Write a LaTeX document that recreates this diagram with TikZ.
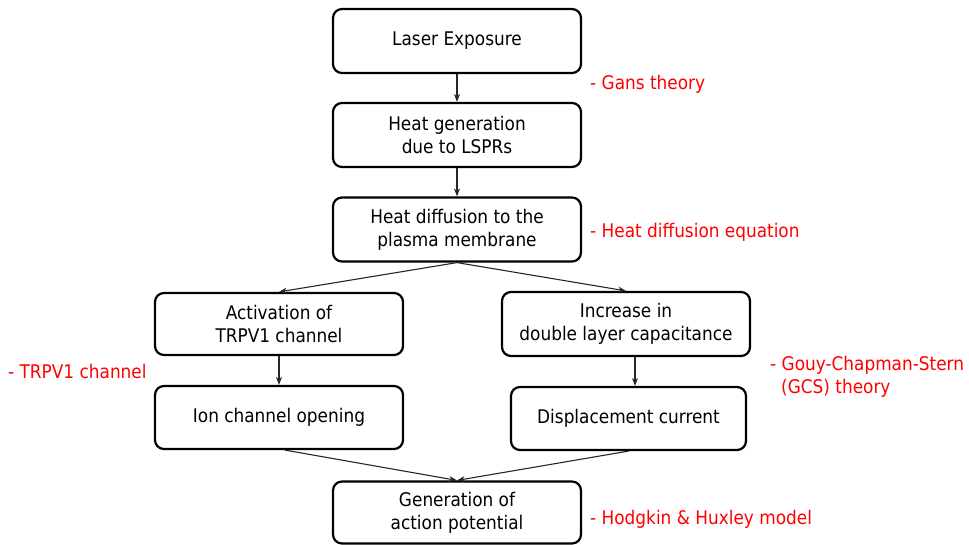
\documentclass[tikz,border=0pt]{standalone}
\usepackage{fontspec}
\setmainfont{DejaVu Sans Condensed}
\usetikzlibrary{arrows.meta}
\begin{document}
\begin{tikzpicture}[x=1pt,y=-1pt,
  box/.style={draw=black,line width=2.2pt,rounded corners=9pt,fill=white,
    minimum width=248pt,minimum height=64pt,align=center,inner sep=0pt,
    font=\fontsize{18.8}{23}\selectfont},
  note/.style={text=red,anchor=west,inner sep=0pt,font=\fontsize{18.8}{23}\selectfont},
  conn/.style={draw=black!85,line width=1.1pt,-{Stealth[length=8pt,width=6pt]}}]
\useasboundingbox (0,0) rectangle (969,544);
\node[box] (b1) at (457,41) {Laser Exposure};
\node[box] (b2) at (457,135) {Heat generation\\due to LSPRs};
\node[box] (b3) at (457,229.5) {Heat diffusion to the\\plasma membrane};
\node[box,minimum height=62pt] (b4) at (279,324) {Activation of\\TRPV1 channel};
\node[box] (b5) at (626,324) {Increase in\\double layer capacitance};
\node[box,minimum height=63pt] (b6) at (279,417.5) {Ion channel opening};
\node[box,minimum width=235pt,minimum height=63pt] (b7) at (628.5,418.5) {Displacement current};
\node[box,minimum height=62pt] (b8) at (457,512.5) {Generation of\\action potential};
\coordinate (xr) at (635,0);
\coordinate (xl) at (285,0);
\draw[conn] (b1.south) -- (b2.north);
\draw[conn] (b2.south) -- (b3.north);
\draw[conn] (b3.south) -- (b4.north);
\draw[conn] (b3.south) -- (b5.north);
\draw[conn] (b4.south) -- (b6.north);
\draw[conn] (b5.south -| xr) -- (b7.north -| xr);
\draw[conn] (b6.south -| xl) -- (b8.north);
\draw[conn] (b7.south) -- (b8.north);
\node[note] (n1) at (590,84) {- Gans theory};
\node[note] (n2) at (590,232) {- Heat diffusion equation};
\node[note] (n3) at (8,371) {- TRPV1 channel};
\node[note] (n4) at (770,365) {- Gouy-Chapman-Stern};
\node[note] (n5) at (781,388) {(GCS) theory};
\node[note] (n6) at (590,519) {- Hodgkin \& Huxley model};
\end{tikzpicture}
\end{document}
